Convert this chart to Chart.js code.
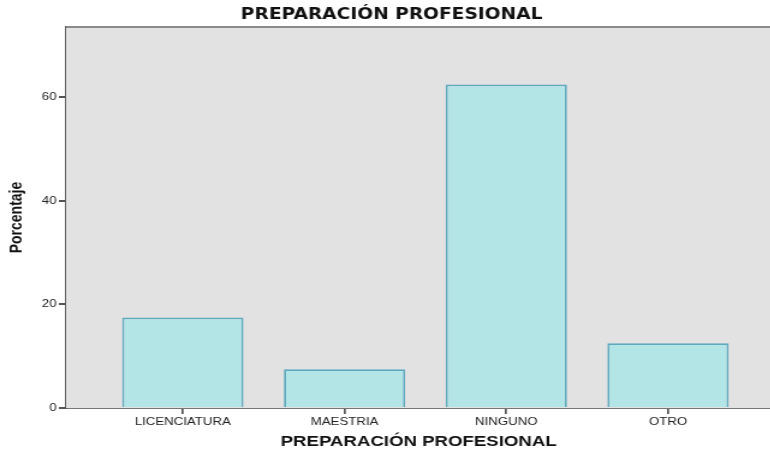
<!DOCTYPE html>
<html>
<head>
<meta charset="utf-8">
<script src="https://cdn.jsdelivr.net/npm/chart.js@4"></script>
<style>
  html, body { margin: 0; padding: 0; background: #fff; overflow: hidden; }
  /* the source picture is stretched sideways (x1.2), so draw narrower and stretch */
  #wrap { width: 641.67px; height: 453px; transform: scaleX(1.2); transform-origin: 0 0; }
</style>
</head>
<body>
<div id="wrap"><canvas id="chart"></canvas></div>
<script>
'use strict';

// data
const categories = ['LICENCIATURA', 'MAESTRIA', 'NINGUNO', 'OTRO'];
const porcentaje = [17.5, 7.5, 62.5, 12.5];
const yTicks = [0, 20, 40, 60];

// gray plot background + top frame line
const plotBg = {
  id: 'plotBg',
  beforeDatasetsDraw(chart) {
    const a = chart.chartArea;
    const ctx = chart.ctx;
    ctx.save();
    ctx.fillStyle = '#e2e2e2';
    ctx.fillRect(a.left, a.top, a.right - a.left, a.bottom - a.top);
    ctx.strokeStyle = '#8a8a8a';
    ctx.lineWidth = 2;
    ctx.beginPath();
    ctx.moveTo(a.left, a.top);
    ctx.lineTo(a.right, a.top);
    ctx.stroke();
    ctx.restore();
  }
};

function renderChart() {
  const ctx = document.getElementById('chart');
  let points = [];
  for (let i = 0; i < categories.length; i++) {
    points.push({ x: i + 1, y: porcentaje[i] });
  }

  new Chart(ctx, {
    type: 'bar',
    data: {
      datasets: [{
        label: 'Porcentaje',
        data: points,
        backgroundColor: '#b4e5e6',
        borderColor: '#5fa9bf',
        borderWidth: 1.8,
        borderSkipped: 'bottom',
        barPercentage: 0.75,
        categoryPercentage: 1
      }]
    },
    options: {
      responsive: true,
      maintainAspectRatio: false,
      animation: false,
      layout: { padding: { left: 10, right: 0, top: 0, bottom: 0 } },
      plugins: {
        legend: { display: false },
        tooltip: { enabled: false },
        title: {
          display: true,
          text: 'PREPARACIÓN PROFESIONAL',
          color: '#111',
          font: { family: 'DejaVu Sans, sans-serif', size: 15.5, weight: 'bold' },
          padding: { top: 6, bottom: 2.4 }
        }
      },
      scales: {
        x: {
          type: 'linear',
          offset: false,
          min: 0.2786,
          max: 4.638,
          afterBuildTicks(scale) {
            scale.ticks = categories.map((c, i) => ({ value: i + 1 }));
          },
          afterFit(scale) { scale.height = 45; },
          border: { display: true, color: '#777', width: 2 },
          grid: { display: true, offset: false, drawOnChartArea: false, drawTicks: true, tickLength: 6, color: '#555', lineWidth: 1.7 },
          ticks: {
            autoSkip: false,
            maxRotation: 0,
            padding: 1,
            color: '#222',
            font: { family: 'Liberation Sans, Arial, sans-serif', size: 11 },
            callback: (v) => categories[v - 1]
          },
          title: {
            display: true,
            text: 'PREPARACIÓN PROFESIONAL',
            color: '#111',
            font: { family: 'Liberation Sans, Arial, sans-serif', size: 15.5, weight: 'bold' },
            padding: { top: 2, bottom: 2 }
          }
        },
        y: {
          min: 0,
          max: 73.6,
          afterBuildTicks(scale) {
            scale.ticks = yTicks.map(v => ({ value: v }));
          },
          afterFit(scale) { scale.width = 45; },
          border: { display: true, color: '#5a5a5a', width: 1.7 },
          grid: { display: true, drawOnChartArea: false, drawTicks: true, tickLength: 6, color: '#555', lineWidth: 2 },
          ticks: {
            padding: 2,
            color: '#222',
            font: { family: 'Liberation Sans, Arial, sans-serif', size: 11 }
          },
          title: {
            display: true,
            text: 'Porcentaje',
            color: '#111',
            font: { family: 'Liberation Sans Narrow, Arial Narrow, sans-serif', size: 14, weight: 'bold' },
            padding: { top: -4, bottom: 0 }
          }
        }
      }
    },
    plugins: [plotBg]
  });
}
renderChart();
</script>
</body>
</html>
